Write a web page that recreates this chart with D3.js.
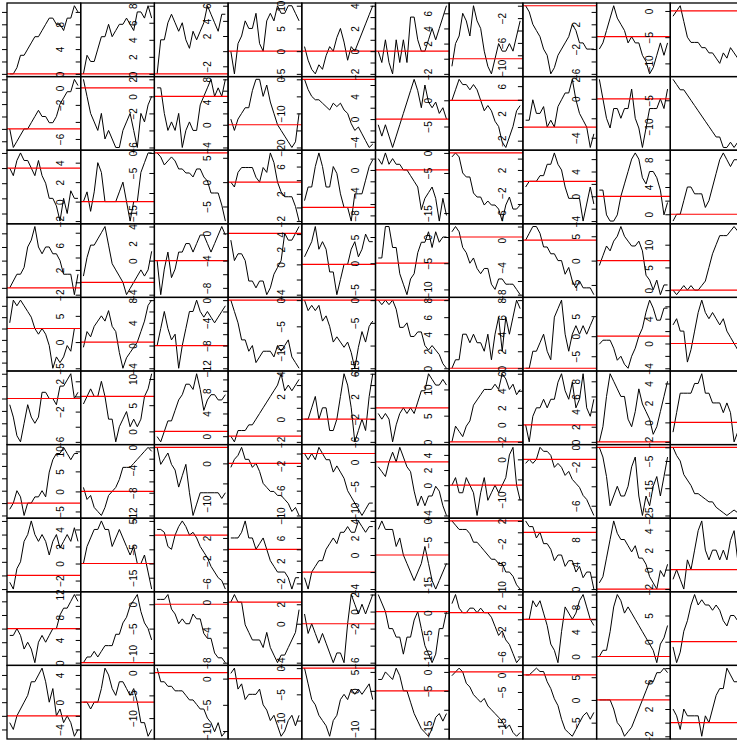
<!DOCTYPE html>
<html><head><meta charset="utf-8">
<script src="https://cdn.jsdelivr.net/npm/d3@7"></script>
<style>body{margin:0;background:#fff;} svg{display:block;}</style>
</head><body>
<svg id="c" width="737" height="740"></svg>
<script>
// 10 x 10 random-walk panels (20 samples each)
const row0 = [
 [0,0,1,3,3,4,5,6,6,7,8,9,9,8,8,7,9,9,11,10],
 [0,3,2,2,4,6,6,8,6,7,8,8,9,8,7,10,10,9,11,9],
 [0,4,4,6,7,6,5,6,4,3,5,4,5,6,8,7,6,5,7,7],
 [0,-3,1,2,4,3,3,5,1,0,4,5,4,6,5,5,6,6,5,4],
 [1,-2,-4,-5,-3,-4,-1,1,0,3,5,2,-2,1,0,2,4,6,8,10],
 [0,-1,1,-1,-2,1,-1,1,-1,3,3,1,0,0,1,2,1,2,3,4],
 [-1,2,3,6,5,3,7,5,4,1,-1,-2,0,2,1,1,2,1,3,5],
 [0,-1,-3,-4,-5,-7,-8,-11,-10,-8,-7,-6,-5,-3,-4,-6,-6,-7,-7,-7],
 [-2,-1,1,3,5,3,2,1,-1,0,-1,-1,-3,-4,-6,-5,-3,-1,-3,-1],
 [-1,0,1,-2,-5,-6,-6,-6,-7,-7,-8,-8,-9,-10,-8,-9,-7,-8,-9,-12]
];
const row1 = [
 [0,-3,-2,-1,0,0,1,2,3,2,2,1,1,2,4,5,6,6,8,7],
 [1,-1,-3,-4,-5,-3,-6,-5,-6,-7,-7,-5,-4,-3,-5,-7,-3,-4,-2,-1],
 [1,1,-2,-4,-3,-4,-2,-6,-4,-3,-4,-4,-1,0,1,2,0,1,0,2],
 [1,-1,1,2,3,3,6,8,8,5,7,4,2,0,-1,-2,-3,-4,-3,2],
 [0,-3,-5,-6,-6,-7,-8,-9,-7,-8,-7,-9,-10,-13,-15,-14,-16,-18,-20,-19],
 [-1,-3,-1,-3,-5,-3,-1,1,3,5,7,5,2,6,3,2,3,1,2,0],
 [0,2,4,3,3,2,3,2,0,-2,-1,-2,-4,-5,-8,-9,-7,-5,-2,-1],
 [1,1,4,2,2,3,0,1,0,3,4,5,5,7,4,2,1,0,-3,-1],
 [2,0,-2,-3,-1,-1,-2,-1,-1,1,-2,-3,-5,-3,-1,-1,-1,0,-1,1],
 [-1,-2,-3,-3,-4,-5,-6,-7,-8,-9,-10,-11,-12,-12,-14,-14,-13,-14,-13,-12]
];
const row2 = [
 [0,-1,1,2,1,1,0,-1,1,-1,-2,-4,-4,-5,-7,-4,-6,-3,-4,-4],
 [0,1,-1,1,4,3,0,0,0,0,1,2,0,-2,0,0,3,4,5,5],
 [0,-1,-3,-2,-1,-2,-4,-4,-5,-5,-6,-4,-4,-6,-7,-10,-10,-10,-13,-17],
 [0,-1,2,3,3,3,3,1,0,3,2,6,4,0,-2,-3,-3,-3,-5,-8],
 [1,3,3,6,8,6,3,3,6,5,2,0,0,-2,2,2,2,4,6,7],
 [2,1,3,1,2,1,1,0,0,-1,-2,-3,-7,-5,-4,-3,-5,-9,-5,-8],
 [-1,0,-1,-5,-6,-6,-10,-11,-11,-13,-12,-13,-13,-14,-17,-13,-11,-14,-14,-13],
 [-1,0,0,0,1,1,3,3,5,3,2,-1,-3,-3,-3,-3,-7,-4,-1,-4],
 [1,1,-3,-4,-4,-3,0,2,4,6,7,6,3,2,4,4,3,1,-3,-1],
 [-1,0,0,2,4,4,3,3,3,1,2,4,6,8,9,8,7,8,8,8]
];
const row3 = [
 [0,1,2,2,3,6,7,9,6,5,6,6,5,5,4,2,2,2,-1,2],
 [1,4,6,6,7,8,9,6,3,2,1,0,-2,-1,0,1,2,1,2,5],
 [0,-4,-1,1,-2,-1,1,1,2,2,1,2,3,3,2,1,2,3,4,3],
 [-1,-4,-3,-3,-4,-7,-7,-8,-7,-7,-9,-8,-6,-5,-4,0,-1,-1,0,1],
 [1,2,3,5,2,3,2,-1,-1,-4,-2,0,0,2,3,1,2,4,3,3],
 [1,1,7,7,3,3,-2,-4,-6,-3,-2,2,4,4,6,3,6,4,5,5],
 [1,2,1,-2,-3,-5,-4,-6,-7,-6,-6,-9,-10,-8,-8,-9,-9,-9,-10,-11],
 [0,1,2,2,1,-1,-1,-2,-2,-3,-3,-5,-4,-6,-7,-6,-7,-7,-7,-8],
 [-1,1,3,2,4,5,7,5,4,3,3,4,2,-3,-4,-6,-4,-7,-5,-5],
 [0,-1,0,1,0,1,0,0,1,2,5,8,10,12,12,12,13,14,13,12]
];
const row4 = [
 [1,5,4,5,4,3,2,0,-1,0,-1,-3,-7,-5,-6,-5,-3,-4,0,0],
 [-1,2,1,3,4,5,4,6,3,2,-2,-5,-3,-2,-1,0,2,4,7,8],
 [0,3,6,3,1,2,-4,0,3,6,6,8,6,5,6,5,4,5,6,7],
 [0,-2,-4,-7,-7,-9,-8,-11,-10,-9,-9,-9,-10,-8,-9,-8,-7,-10,-11,-12],
 [0,-2,-1,-2,-1,-4,-3,-5,-8,-7,-8,-9,-8,-10,-13,-9,-6,-8,-5,-4],
 [0,-1,0,-1,0,-2,-6,-6,-5,-8,-8,-7,-7,-10,-11,-10,-11,-12,-14,-15],
 [0,1,1,4,4,3,4,3,3,2,4,1,4,6,2,6,4,6,8,7],
 [0,0,2,2,3,4,2,1,6,7,8,4,2,4,5,4,5,4,5,6],
 [-2,-1,-1,-1,-3,-6,-5,-7,-8,-5,-3,0,2,6,9,7,4,4,7,7],
 [3,4,2,2,-3,-1,2,5,7,5,4,5,4,3,4,2,1,0,-1,-4]
];
const row5 = [
 [-1,-3,-6,-7,-4,-1,-3,-4,-3,1,1,0,0,-1,2,2,3,4,0,1],
 [-1,0,1,0,0,2,0,-3,-3,-6,-4,-3,-2,-4,-3,-4,-3,0,1,3],
 [-1,-2,0,2,2,4,6,7,9,9,8,11,8,4,6,7,7,6,6,7],
 [0,-1,1,1,1,2,2,3,4,5,6,7,8,9,11,8,9,8,9,10],
 [0,0,1,2,0,1,1,-1,-1,0,2,4,3,1,-2,-1,0,-1,2,4],
 [-1,-2,-1,-2,-6,-3,-1,0,-1,0,-1,1,3,3,6,5,4,4,5,4],
 [0,3,2,1,3,4,7,8,9,10,10,10,11,10,13,12,10,11,9,10],
 [0,-2,1,2,2,3,2,3,3,5,6,4,3,5,2,3,6,2,1,3],
 [0,2,6,9,8,7,6,6,3,2,4,7,5,4,3,1,2,4,6,8],
 [-1,1,3,3,3,3,4,4,5,3,3,2,2,2,1,2,1,-2,-1,-1]
];
const row6 = [
 [-1,0,2,1,-2,0,0,1,1,2,1,5,7,8,8,9,8,7,8,8],
 [1,-2,-1,-4,-5,-6,-4,-1,0,1,3,6,6,6,7,8,9,10,11,10],
 [0,-3,-2,-1,-3,-4,-7,-5,-3,-8,-12,-10,-8,-8,-8,-8,-8,-8,-9,-8],
 [-1,1,2,4,1,1,-1,0,-2,-5,-6,-7,-7,-8,-8,-9,-10,-12,-11,-13],
 [0,-1,0,-1,1,0,-1,-1,-3,-2,-3,-4,-6,-7,-8,-9,-10,-9,-8,-8],
 [-1,-2,-3,0,2,0,3,1,-1,-2,-6,-9,-7,-9,-7,-7,-5,-6,-9,-11],
 [0,1,-1,-1,1,0,-1,-4,-1,1,-2,-1,0,-1,0,1,4,5,0,-2],
 [-1,0,-1,0,3,2,2,1,-2,-1,-2,-4,-3,-5,-6,-7,-9,-10,-12,-14],
 [0,-1,-3,-6,-5,-4,-5,-5,-4,-2,-1,-5,-7,-5,-6,-4,-3,-5,-3,-1],
 [0,-3,-5,-10,-12,-14,-17,-17,-18,-19,-20,-20,-22,-23,-24,-25,-24,-23,-24,-24]
];
const row7 = [
 [-1,-2,1,2,5,6,8,6,5,6,5,3,5,6,4,5,6,5,7,5],
 [0,2,3,4,4,5,4,4,2,3,4,3,2,1,2,0,0,1,-1,-3],
 [2,2,1,-4,-5,0,3,5,3,0,1,-1,-4,-6,-8,-11,-13,-15,-16,-19],
 [2,2,2,3,5,2,2,0,1,2,0,-2,-3,-4,-4,-4,-5,-7,-5,-5],
 [-1,-3,0,1,2,2,4,5,6,5,7,7,8,7,7,9,8,7,8,8],
 [3,4,3,3,3,1,2,0,-1,-2,-3,-2,-1,1,-1,-3,-4,-3,-2,-1],
 [0,-1,-2,-2,-2,-3,-5,-5,-6,-7,-8,-9,-9,-10,-10,-12,-12,-13,-15,-16],
 [2,1,1,-1,0,-2,-2,-3,-5,-4,-4,-6,-5,-5,-7,-6,-8,-7,-7,-10],
 [1,2,5,8,11,9,8,8,7,6,7,5,5,4,2,1,0,3,2,4],
 [-1,0,-1,-2,1,0,2,4,5,2,1,2,2,1,2,1,3,4,1,2]
];
const row8 = [
 [-1,-1,0,-1,-3,-2,-3,-5,-2,-1,-2,-1,0,0,2,3,3,4,5,4],
 [0,1,1,2,1,2,3,3,3,5,5,7,8,10,11,12,9,7,6,4],
 [1,1,1,2,-1,-2,-4,-3,-4,-4,-2,-3,-3,-6,-7,-7,-10,-11,-11,-12],
 [0,1,0,0,-3,-4,-5,-5,-5,-6,-4,-6,-7,-8,-7,-7,-6,-5,-4,-1],
 [1,-1,0,-1,-2,-1,-2,-3,-4,-3,-3,-4,0,3,2,1,2,1,2,3],
 [2,1,0,-2,-2,-3,-3,-5,-3,-3,-1,0,-2,-4,-5,-6,-5,-2,-2,0],
 [2,4,1,0,0,1,1,0,1,0,0,-1,-3,-5,-4,-6,-7,-9,-11,-10],
 [0,0,3,2,3,1,-1,-4,-5,-7,-2,2,1,0,1,3,4,2,0,-1],
 [0,1,1,4,8,10,9,7,8,7,6,5,4,3,2,1,-1,2,3,5],
 [-1,-4,-2,2,4,7,9,7,8,7,7,6,7,6,4,3,5,5,4,4]
];
const row9 = [
 [-1,-2,0,1,2,3,5,5,6,7,5,2,4,0,1,-1,0,-1,-3,-2],
 [0,0,-1,0,0,2,5,4,2,1,3,3,2,1,2,0,-3,-3,-5,-4],
 [1,-2,-2,-3,-3,-4,-4,-4,-5,-6,-6,-7,-8,-8,-10,-11,-13,-11,-14,-13],
 [1,2,-2,-1,-4,-3,-3,-3,-2,-5,-6,-8,-7,-9,-11,-10,-8,-7,-9,-7],
 [0,-3,-6,-7,-9,-10,-11,-13,-10,-9,-6,-5,-6,-4,-5,-4,-5,-4,-3,-6],
 [3,3,5,4,3,6,4,0,0,-3,-6,-8,-10,-11,-12,-10,-7,-6,-8,-6],
 [-1,0,1,0,-3,-4,-6,-7,-8,-7,-9,-10,-11,-12,-13,-15,-14,-16,-17,-16],
 [0,0,1,2,1,1,-2,-4,-7,-9,-13,-16,-17,-18,-16,-14,-12,-11,-13,-11],
 [0,0,0,0,-2,-5,-6,-8,-7,-6,-4,-2,0,2,4,4,6,6,7,6],
 [2,1,-1,2,1,1,1,1,-2,1,0,2,4,5,5,8,7,6,6,5]
];
const rows = [row0,row1,row2,row3,row4,row5,row6,row7,row8,row9];
const refLevel = 0;   // red horizontal reference line

const left0 = 7, top0 = 3, pw = 73.7, ph = 73.6;
const FONT = "'Liberation Sans', Arial, Helvetica, sans-serif";
const svg = d3.select("#c");
const defs = svg.append("defs");

// R's pretty() / GEPretty used by base graphics axes
function rPretty(lo, up, ndiv) {
  const h = 1.5, h5 = 0.5 + 1.5 * h;
  let cell = (up - lo) / ndiv;
  const U = Math.pow(10, Math.floor(Math.log10(cell)));
  let unit = U, ns;
  if ((ns = 2 * U) - cell < h * (cell - unit)) { unit = ns;
    if ((ns = 5 * U) - cell < h5 * (cell - unit)) { unit = ns;
      if ((ns = 10 * U) - cell < h * (cell - unit)) unit = ns; } }
  const a = Math.ceil(lo / unit - 1e-7), b = Math.floor(up / unit + 1e-7);
  const t = [];
  for (let k = a; k <= b; k++) t.push(+(k * unit).toFixed(10));
  return t;
}
const fmt = d => d < 0 ? "\u2212" + Math.abs(d) : String(d);

// width of "m" for the label-overlap gap (R: gap.axis = 1)
const probe = svg.append("text").attr("font-family", FONT).attr("font-size", 10).text("m");
const gapM = probe.node().getComputedTextLength();
probe.remove();

const content = svg.append("g");
const axesLayer = svg.append("g");

rows.forEach((row, r) => row.forEach((vals, c) => {
  const x0 = left0 + c * pw, y0 = top0 + r * ph;
  const n = vals.length;
  const [mn, mx] = d3.extent(vals);
  const pad = (mx - mn) * 0.04;
  const x = d3.scaleLinear().domain([-(n - 1) * 0.04, (n - 1) * 1.04]).range([x0, x0 + pw]);
  const y = d3.scaleLinear().domain([mn - pad, mx + pad]).range([y0 + ph, y0]);
  const id = `clip${r}_${c}`;
  defs.append("clipPath").attr("id", id).append("rect")
    .attr("x", x0).attr("y", y0).attr("width", pw).attr("height", ph);
  const g = content.append("g").attr("clip-path", `url(#${id})`);
  g.append("path").datum(vals)
    .attr("d", d3.line().x((d, i) => x(i)).y(d => y(d)))
    .attr("fill", "none").attr("stroke", "#000").attr("stroke-width", 1)
    .attr("stroke-linejoin", "round");
  g.append("line").attr("x1", x0).attr("x2", x0 + pw)
    .attr("y1", y(refLevel)).attr("y2", y(refLevel))
    .attr("stroke", "#ff0000").attr("stroke-width", 1.2);

  // box
  axesLayer.append("rect").attr("x", x0).attr("y", y0).attr("width", pw).attr("height", ph)
    .attr("fill", "none").attr("stroke", "#000").attr("stroke-width", 1.3);

  // y axis on the left, labels parallel to axis (first column's labels fall off the page)
  const ticks = rPretty(y.domain()[0], y.domain()[1], 5);
  const ax = axesLayer.append("g").attr("transform", `translate(${x0},0)`)
    .call(d3.axisLeft(y).tickValues(ticks).tickSize(5).tickSizeOuter(0).tickFormat(fmt));
  ax.attr("font-family", FONT).attr("font-size", 10);
  ax.select(".domain").remove();
  ax.selectAll(".tick line").attr("stroke", "#000").attr("stroke-width", 1);
  if (c === 0) { ax.selectAll(".tick text").remove(); return; }
  ax.selectAll(".tick text")
    .attr("x", 0).attr("dy", null).attr("fill", "#000")
    .attr("text-anchor", "middle")
    .attr("transform", "translate(-17,0) rotate(-90)");
  // R-style overlap suppression, from lowest value upward
  let lastUpper = -Infinity;
  ax.selectAll(".tick").each(function(d) {
    const t = d3.select(this).select("text");
    const w = t.node().getComputedTextLength();
    const u = -y(d);
    const lower = u - w / 2;
    if (lower - lastUpper >= gapM) { lastUpper = u + w / 2; }
    else t.remove();
  });
}));
</script>
</body></html>
